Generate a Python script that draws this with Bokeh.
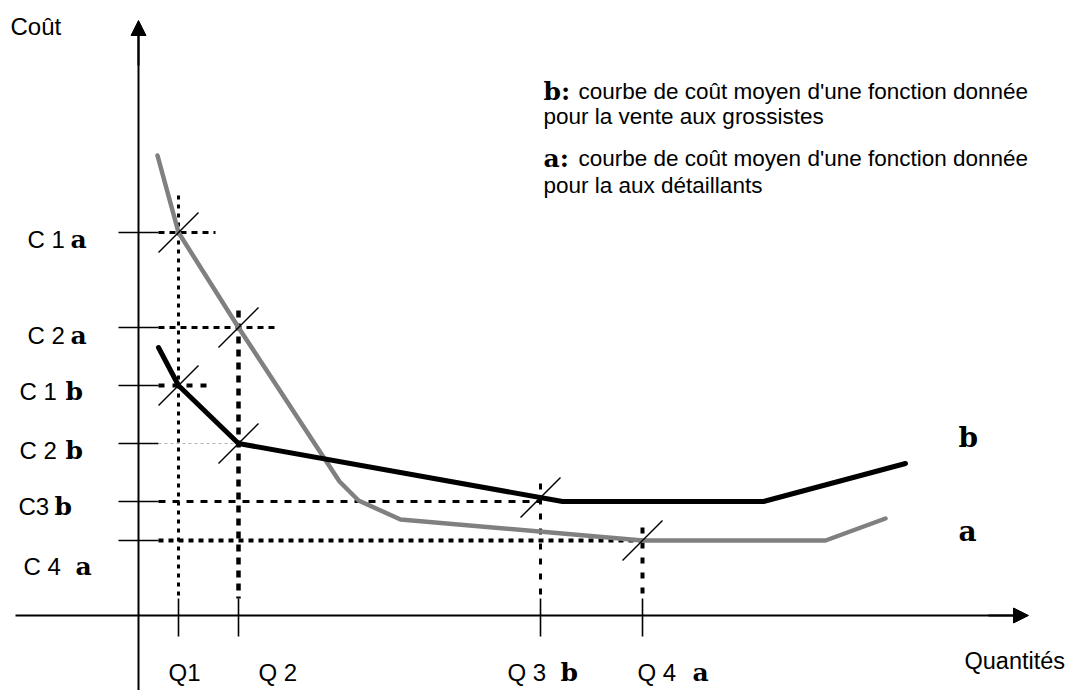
import numpy as np
from bokeh.plotting import figure
from bokeh.models import Range1d, Arrow, NormalHead
from bokeh.core.properties import value
from bokeh.embed import file_html
from bokeh.resources import INLINE

# ---------------- data (schematic units: quantity, cost) ----------------
curve_a_q = [1.9, 4.0, 10.0, 20.1, 22.0, 26.2, 50.4, 68.7, 74.7]
curve_a_c = [46.0, 38.3, 28.8, 13.4, 11.5, 9.6, 7.5, 7.5, 9.7]
curve_b_q = [2.0, 4.0, 10.0, 42.4, 62.5, 76.7]
curve_b_c = [26.8, 23.0, 17.2, 11.4, 11.4, 15.2]

cost_labels = ["C 1", "C 2", "C 1", "C 2", "C3", "C 4"]
cost_curve = ["a", "a", "b", "b", "b", "a"]
cost_levels = [38.3, 28.8, 23.0, 17.2, 11.4, 7.5]

qty_labels = ["Q1", "Q 2", "Q 3", "Q 4"]
qty_curve = ["", "", "b", "a"]
qty_levels = [4.0, 10.0, 40.2, 50.4]

legend_b = ["courbe de coût moyen d'une fonction donnée", "pour la vente aux grossistes"]
legend_a = ["courbe de coût moyen d'une fonction donnée", "pour la aux détaillants"]

SANS = value("Liberation Sans")
SERIF = value("DejaVu Serif")

W, H = 1068, 690
p = figure(width=W, height=H, x_range=Range1d(-13.8, -13.8 + W / 10),
           y_range=Range1d(61.5 - H / 10, 61.5),
           output_backend="svg", toolbar_location=None, min_border=0,
           x_axis_type=None, y_axis_type=None)
p.grid.visible = False
p.outline_line_color = None
p.background_fill_color = "white"
p.border_fill_color = "white"

# ---------------- axes ----------------
p.segment(x0=[0.0], y0=[-7.5], x1=[0.0], y1=[58.0], line_color="black", line_width=2)
p.segment(x0=[-12.3], y0=[0.0], x1=[87.5], y1=[0.0], line_color="black", line_width=2)
p.add_layout(Arrow(end=NormalHead(size=15, fill_color="black", line_color="black"),
                   x_start=0.0, y_start=55.0, x_end=0.0, y_end=59.5,
                   line_color="black", line_width=2))
p.add_layout(Arrow(end=NormalHead(size=15, fill_color="black", line_color="black"),
                   x_start=85.0, y_start=0.0, x_end=89.0, y_end=0.0,
                   line_color="black", line_width=2))

# ticks
p.segment(x0=[-2.0] * len(cost_levels), y0=cost_levels, x1=[2.0] * len(cost_levels),
          y1=cost_levels, line_color="black", line_width=1.6)
p.segment(x0=qty_levels, y0=[1.7] * len(qty_levels), x1=qty_levels,
          y1=[-2.1] * len(qty_levels), line_color="black", line_width=1.6)

# ---------------- guide lines ----------------
h_end = [7.7, 13.9, 7.5, qty_levels[1], qty_levels[2], qty_levels[3]]
h_width = [3, 3, 4, 1, 3, 4]
h_dash = ["6 5", "6 5", "6 8", "3 3", "7 7", "5 5"]
h_color = ["black", "black", "black", "#b4b4b4", "black", "black"]
for c, e, w, d, col in zip(cost_levels, h_end, h_width, h_dash, h_color):
    p.line(x=[2.0, e], y=[c, c], line_color=col, line_width=w, line_dash=d)

v_top = [42.0, 30.5, 13.2, 8.8]
v_width = [3, 4.5, 3, 4]
v_dash = ["4 5", "7 6", "6 9", "6 9"]
for q, t, w, d in zip(qty_levels, v_top, v_width, v_dash):
    p.line(x=[q, q], y=[t, 1.7], line_color="black", line_width=w, line_dash=d)

# ---------------- curves ----------------
p.line(x=curve_a_q, y=curve_a_c, line_color="#808080", line_width=4.5,
       line_cap="round", line_join="round")
p.line(x=curve_b_q, y=curve_b_c, line_color="black", line_width=5,
       line_cap="round", line_join="round")

# slash marks at intersections
sx = [qty_levels[0], qty_levels[1], qty_levels[0], qty_levels[1], qty_levels[2], qty_levels[3]]
sy = [float(np.interp(qty_levels[0], curve_a_q, curve_a_c)),
      float(np.interp(qty_levels[1], curve_a_q, curve_a_c)),
      float(np.interp(qty_levels[0], curve_b_q, curve_b_c)),
      float(np.interp(qty_levels[1], curve_b_q, curve_b_c)),
      float(np.interp(qty_levels[2], curve_b_q, curve_b_c)),
      float(np.interp(qty_levels[3], curve_a_q, curve_a_c))]
p.segment(x0=[x - 2.0 for x in sx], y0=[y - 2.0 for y in sy],
          x1=[x + 2.0 for x in sx], y1=[y + 2.0 for y in sy],
          line_color="black", line_width=1.5)

# ---------------- texts ----------------
p.text(x=[-12.8], y=[58.9], text=["Coût"], text_font=SANS, text_font_size="24px",
       text_baseline="alphabetic", text_color="black")

c_left = [-11.1, -11.1, -11.9, -11.9, -12.0, -11.5]
c_sfx = [-6.8, -6.8, -7.3, -7.3, -8.4, -6.3]
c_shift = [-0.7, -0.8, -0.6, -0.7, -0.5, -2.6]
c_y = [c + s for c, s in zip(cost_levels, c_shift)]
p.text(x=c_left, y=c_y, text=cost_labels,
       text_font=SANS, text_font_size="24px", text_baseline="alphabetic")
p.text(x=c_sfx, y=c_y, text=cost_curve,
       text_font=SERIF, text_font_style="bold", text_font_size="25px",
       text_baseline="alphabetic")

q_left = [qty_levels[0] - 1.0, qty_levels[1] + 2.0, qty_levels[2] - 3.3, qty_levels[3] - 0.5]
q_sfx = [qty_levels[2] + 2.0, qty_levels[3] + 5.0]
p.text(x=q_left, y=[-5.7] * 4, text=qty_labels, text_font=SANS, text_font_size="24px",
       text_baseline="alphabetic")
p.text(x=q_sfx, y=[-5.7] * 2, text=qty_curve[2:], text_font=SERIF,
       text_font_style="bold", text_font_size="25px", text_baseline="alphabetic")

p.text(x=[82.6], y=[-4.5], text=["Quantités"], text_font=SANS, text_font_size="23.5px",
       text_baseline="alphabetic")

# curve labels
p.text(x=[82.0, 82.0], y=[17.8, 8.4], text=["b", "a"], text_font=SERIF,
       text_font_style="bold", text_font_size="28px", text_baseline="alphabetic")

# legend text block
p.text(x=[40.5, 40.5], y=[52.4, 45.7], text=["b:", "a:"], text_font=SERIF,
       text_font_style="bold", text_font_size="25px", text_baseline="alphabetic")
p.text(x=[44.0, 40.5, 44.0, 40.5], y=[52.4, 49.9, 45.7, 43.0],
       text=[legend_b[0], legend_b[1], legend_a[0], legend_a[1]],
       text_font=SANS, text_font_size="22.5px", text_baseline="alphabetic")

open("out.html", "w").write(file_html(p, INLINE))
